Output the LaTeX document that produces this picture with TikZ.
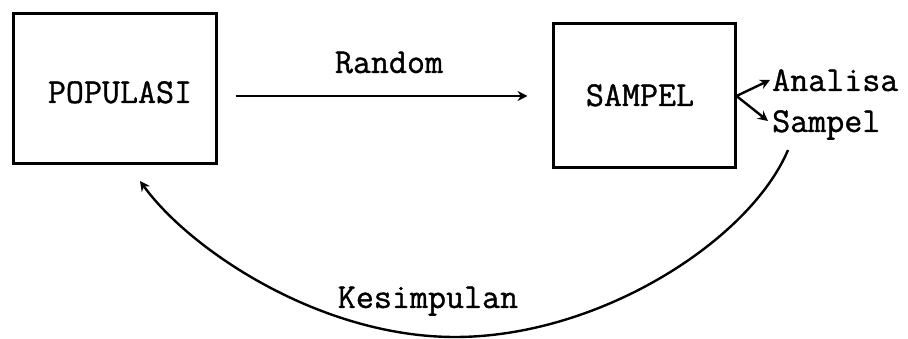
\documentclass[tikz,border=0pt]{standalone}
\usepackage{fontspec}
\newfontfamily\tw[FakeBold=1]{Latin Modern Mono}
\usetikzlibrary{arrows.meta}
\begin{document}
\begin{tikzpicture}[x=1pt,y=-1pt,
  lbl/.style={font=\tw\fontsize{35}{40}\selectfont, inner sep=0pt},
  box/.style={draw, line width=3pt, minimum width=#1, inner sep=0pt},
  conn/.style={line width=2.4pt, -{Stealth[length=10pt,width=10pt]}}]
\useasboundingbox (0,0) rectangle (908,339);
\node[box=203pt, minimum height=150pt] (pop) at (114.5,89) {};
\node[lbl, anchor=base] at (120,103) {POPULASI};
\node[box=182pt, minimum height=144pt] (samp) at (644,96) {};
\node[lbl, anchor=base] at (640,106) {SAMPEL};
\draw[conn, shorten <=18pt, shorten >=24pt] (pop.east |- samp.west) -- (samp.west);
\node[lbl, anchor=base] (rnd) at (389,73) {Random};
\node[lbl, anchor=base west] (ana) at (772,91) {Analisa};
\node[lbl, anchor=base west] (smp) at (772,132) {Sampel};
\coordinate (c0) at (samp.east);
\draw[conn] (c0) -- (770,80);
\draw[conn] (c0) -- (768,121);
\coordinate (cs) at (788,150);
\coordinate (cb) at (455,337);
\coordinate (ce) at (140,181);
\draw[conn] (cs) .. controls (750,240) and (600,337) .. (cb)
  .. controls (320,337) and (190,250) .. (ce);
\node[lbl, anchor=base] (kes) at (428,308) {Kesimpulan};
\end{tikzpicture}
\end{document}
